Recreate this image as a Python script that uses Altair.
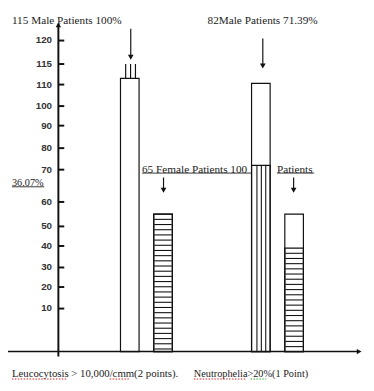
import altair as alt
import numpy as np
import pandas as pd

# ---------------- data ----------------
groups = ["Leucocytosis", "Leucocytosis", "Neutrophelia", "Neutrophelia"]
sexes = ["Male", "Female", "Male", "Female"]
bar_tops = [111.5, 55.0, 110.3, 55.0]        # outer height of each bar
hatch_tops = [0.0, 55.0, 72.0, 39.0]         # height of the hatched part
male_leuco_marker = 115.0                    # three little lines above first bar

tick_values = [10, 20, 30, 40, 50, 60, 70, 80, 90, 100, 110, 115, 120]
axis_domain = [0, 10, 20, 30, 40, 50, 60, 70, 80, 90, 100, 110, 115, 120]
# the hand-drawn axis is irregular: piecewise scale (plot pixels)
axis_range = [347, 303, 281, 261, 239, 219, 194, 161, 139, 116, 96, 74, 53, 29]

category_labels = ["Leucocytosis > 10,000/cmm(2 points).", "Neutrophelia>20%(1  Point)"]
top_labels = ["115 Male Patients 100%", "82Male Patients 71.39%"]
mid_labels = ["65 Female Patients 100", "Patients"]
side_label = "36.07%"

# ---------------- helpers ----------------
bars_df = pd.DataFrame(dict(group=groups, sex=sexes, top=bar_tops, hatch=hatch_tops))

yscale = alt.Scale(domain=axis_domain, range=axis_range, nice=False, zero=False)
xscale = alt.Scale(domain=["Leucocytosis", "Neutrophelia"], range=[74.5, 342.5],
                   paddingInner=0, paddingOuter=0)
X = alt.X("group:N", scale=xscale, axis=None)
OFF = {"Male": -17, "Female": 17}
ONE = alt.Data(values=[{}])
INK = "#111"
TXT = "#222"


def Y(field):
    return alt.Y(f"{field}:Q", scale=yscale, axis=None)


def px(v):
    return float(np.interp(v, axis_domain, axis_range))


def inv(p):
    return float(np.interp(p, axis_range[::-1], axis_domain[::-1]))


layers = []

# bars
for s in ["Male", "Female"]:
    layers.append(
        alt.Chart(bars_df).transform_filter(alt.datum.sex == s)
        .mark_bar(width=19, xOffset=OFF[s], fill="white", stroke=INK, strokeWidth=1.2)
        .encode(x=X, y=Y("top"), y2=alt.datum(0))
    )

# hatched part outlines
for s in ["Male", "Female"]:
    layers.append(
        alt.Chart(bars_df).transform_filter((alt.datum.sex == s) & (alt.datum.hatch > 0))
        .mark_bar(width=19, xOffset=OFF[s], fill="white", fillOpacity=0, stroke=INK, strokeWidth=1.2)
        .encode(x=X, y=Y("hatch"), y2=alt.datum(0))
    )

# horizontal hatching in female bars
rows = []
for g, s, h in zip(groups, sexes, hatch_tops):
    if s == "Female" and h > 0:
        for p in np.arange(px(h) + 5.3, axis_range[0] - 2, 5.3):
            rows.append({"group": g, "v": inv(p)})
hatch_df = pd.DataFrame(rows)
layers.append(
    alt.Chart(hatch_df).mark_tick(orient="horizontal", size=18, thickness=1.1,
                                  xOffset=17, color=INK, opacity=1)
    .encode(x=X, y=Y("v"))
)

# vertical hatching in male neutrophelia bar
for d in [-21, -16.5, -12]:
    layers.append(
        alt.Chart(bars_df).transform_filter((alt.datum.group == "Neutrophelia") & (alt.datum.sex == "Male"))
        .mark_rule(xOffset=d, color=INK, strokeWidth=1.1)
        .encode(x=X, y=Y("hatch"), y2=alt.datum(0))
    )

# three short lines above the first bar
marker_df = pd.DataFrame({"group": ["Leucocytosis"], "lo": [bar_tops[0]], "hi": [male_leuco_marker]})
for d in [-21.2, -16.2, -11.2]:
    layers.append(
        alt.Chart(marker_df).mark_rule(xOffset=d, color=INK, strokeWidth=1.2)
        .encode(x=X, y=Y("lo"), y2=alt.Y2("hi:Q"))
    )

# y axis line, ticks, labels and arrow
ticks_df = pd.DataFrame({"v": tick_values})
layers.append(alt.Chart(ONE).mark_rule(color=INK, strokeWidth=2)
              .encode(x=alt.value(51.5), y=alt.value(12), y2=alt.value(352)))
layers.append(alt.Chart(ONE).mark_point(shape="triangle-up", filled=True, size=30, color=INK, opacity=1)
              .encode(x=alt.value(51.5), y=alt.value(13)))
layers.append(alt.Chart(ticks_df).mark_rule(color=INK, strokeWidth=2)
              .encode(y=Y("v"), x=alt.value(51.5), x2=alt.value(57.5)))
layers.append(alt.Chart(ticks_df).mark_text(align="right", baseline="middle", font="Liberation Sans",
                                            fontSize=10, fontWeight="bold", color="#333")
              .encode(y=Y("v"), x=alt.value(45), text=alt.Text("v:Q")))

# x axis line and arrow
zero_df = pd.DataFrame({"v": [0]})
layers.append(alt.Chart(zero_df).mark_rule(color=INK, strokeWidth=1.5)
              .encode(y=Y("v"), x=alt.value(0), x2=alt.value(358)))
layers.append(alt.Chart(zero_df).mark_point(shape="triangle-right", filled=True, size=30, color=INK, opacity=1)
              .encode(y=Y("v"), x=alt.value(359)))

# arrows
arrows = [("Leucocytosis", -16, 17, 46), ("Neutrophelia", -15, 27, 55),
          ("Leucocytosis", 17.5, 169, 182), ("Neutrophelia", 16.5, 169, 182)]
for g, d, y0, y1 in arrows:
    gdf = pd.DataFrame({"group": [g]})
    layers.append(alt.Chart(gdf).mark_rule(xOffset=d, color=INK, strokeWidth=1.2)
                  .encode(x=X, y=alt.value(y0), y2=alt.value(y1)))
    layers.append(alt.Chart(gdf).mark_point(xOffset=d, shape="triangle-down", filled=True, size=34,
                                            color=INK, opacity=1)
                  .encode(x=X, y=alt.value(y1)))


def text(t, x, y, size=11, color=TXT):
    return alt.Chart(ONE).mark_text(align="left", baseline="middle", font="Liberation Serif",
                                    fontSize=size, color=color).encode(
        x=alt.value(x), y=alt.value(y), text=alt.value(t))


def line(x0, x1, y, color=TXT, dash=None, w=0.9):
    kw = dict(color=color, strokeWidth=w)
    if dash:
        kw["strokeDash"] = dash
    return alt.Chart(ONE).mark_rule(**kw).encode(x=alt.value(x0), x2=alt.value(x1), y=alt.value(y))


layers += [
    text(top_labels[0], 4, 9, 11.5),
    text(top_labels[1], 204, 9, 11.5),
    text(mid_labels[0], 137, 161, 11.5),
    text(mid_labels[1], 275, 161, 11.5),
    text(side_label, 4, 175, 10.5),
    text(category_labels[0], 4, 370, 11),
    text(category_labels[1], 190, 370, 10.5),
    line(137, 249, 164.5),
    line(275, 313, 164.5),
    line(4, 37, 178.5),
    line(4, 60, 375, "#d22", [1.5, 1.5], 1.2),
    line(104, 125, 375, "#d22", [1.5, 1.5], 1.2),
    line(190, 243, 375, "#d22", [1.5, 1.5], 1.2),
    line(248, 264, 375, "#3a3", [1.5, 1.5], 1.2),
]

chart = alt.layer(*layers).properties(
    width=366, height=383, autosize=alt.AutoSizeParams(type="none"), padding=0
).configure_view(stroke=None)

chart.save("out.html", embed_options={"renderer": "svg", "actions": False})
